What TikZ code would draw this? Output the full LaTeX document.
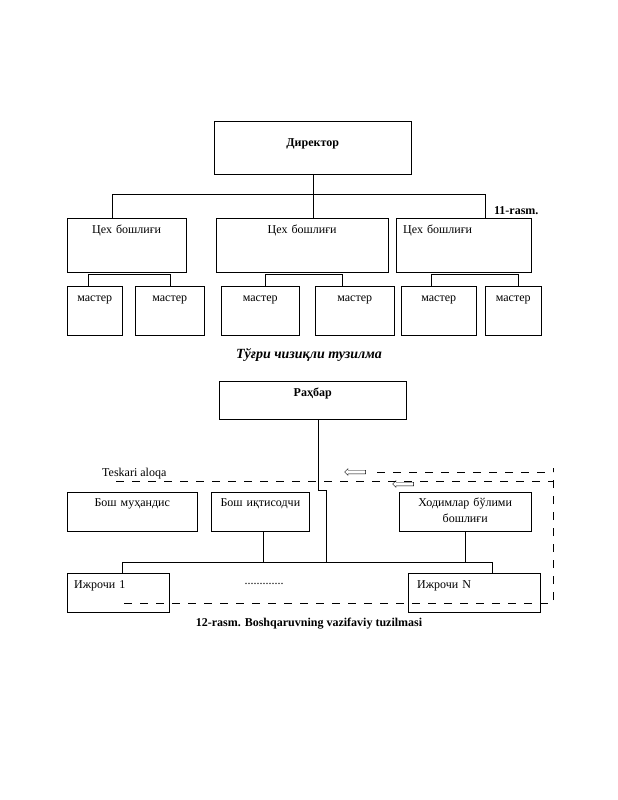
\documentclass[tikz,border=0pt]{standalone}
\usepackage{fontspec}
\setmainfont{Liberation Serif}
\usetikzlibrary{shapes.arrows}
\newcommand{\txt}{\fontsize{12}{14.5}\selectfont}
\tikzstyle{box} = [rectangle, draw, anchor=north west, inner xsep=0pt,
    inner ysep=0pt, align=center, font=\txt]
\tikzstyle{boxleft} = [box, align=left]
\tikzstyle{boxbold} = [box, font=\txt\bfseries]
\tikzstyle{caption} = [font=\txt\bfseries]
\tikzstyle{line} = [draw]
\tikzstyle{feedback} = [draw, dash pattern=on 8pt off 8pt]
\tikzstyle{backarrow} = [single arrow, draw, fill=white, shape border rotate=180,
    minimum height=21pt, inner xsep=0pt, inner ysep=1.6pt, single arrow head extend=1.6pt]

\begin{document}
\begin{tikzpicture}[x=1pt, y=-1pt]
    \useasboundingbox (0,0) rectangle (618,800);
    % Place nodes (11-rasm)
    \node [boxbold, text width=197pt, text height=25pt, text depth=28pt] (dir) at (214,121) {Директор};
    \node [box, text width=119pt, text height=15pt, text depth=39pt] (c1) at (67,218) {Цех бошлиғи};
    \node [box, text width=172pt, text height=15pt, text depth=39pt] (c2) at (216,218) {Цех бошлиғи};
    \node [boxleft, inner xsep=7pt, text width=121pt, text height=15pt, text depth=39pt] (c3) at (396,218) {Цех бошлиғи};
    \node [box, text width=55pt, text height=15pt, text depth=34pt] (m1) at (67,286) {мастер};
    \node [box, text width=69pt, text height=15pt, text depth=34pt] (m2) at (135,286) {мастер};
    \node [box, text width=78pt, text height=15pt, text depth=34pt] (m3) at (221,286) {мастер};
    \node [box, text width=79pt, text height=15pt, text depth=34pt] (m4) at (315,286) {мастер};
    \node [box, text width=75pt, text height=15pt, text depth=34pt] (m5) at (401,286) {мастер};
    \node [box, text width=56pt, text height=15pt, text depth=34pt] (m6) at (485,286) {мастер};
    \node [caption, anchor=east] (r11) at (542,211) {11-rasm.};
    \node [font=\fontsize{14}{16}\selectfont\bfseries\itshape] (t11) at (309,355) {Тўғри чизиқли тузилма};
    % Draw edges (11-rasm)
    \path [line] (dir.south) -- (dir.south |- c2.north);
    \path [line] ([xshift=-14.5pt]c1.north) -- ++(0,-24) -| ([xshift=21.5pt]c3.north);
    \path [line] ([xshift=-6.5pt]m1.north) |- ([yshift=-2pt]c1.south) -| (m2.north);
    \path [line] ([xshift=5pt]m3.north) |- ([yshift=-2pt]c2.south) -| ([xshift=-12.5pt]m4.north);
    \path [line] ([xshift=-7.5pt]m5.north) |- ([yshift=-2pt]c3.south) -| ([xshift=5pt]m6.north);
    % Place nodes (12-rasm)
    \node [boxbold, text width=187pt, text height=15pt, text depth=23pt] (rah) at (219,381) {Раҳбар};
    \node [box, text width=130pt, text height=14pt, text depth=25pt] (eng) at (67,492) {Бош муҳандис};
    \node [box, line width=0.8pt, text width=98pt, text height=14pt, text depth=25pt] (econ) at (211,492) {Бош иқтисодчи};
    \node [box, text width=132pt, text height=14pt, text depth=25pt] (staff) at (399,492) {Ходимлар бўлими\\[2pt]бошлиғи};
    \node [boxleft, inner xsep=7pt, text width=88pt, text height=15pt, text depth=24pt] (ex1) at (67,573) {Ижрочи 1};
    \node [boxleft, inner xsep=9pt, text width=114pt, text height=15pt, text depth=24pt] (exN) at (408,573) {Ижрочи N};
    \node [font=\txt] (dots) at (264,584) {.............};
    \node [font=\txt, anchor=base west, inner sep=0pt] (fb) at (102,476) {Teskari aloqa};
    \node [backarrow] (a1) at (356,472) {};
    \node [backarrow] (a2) at (404,484) {};
    \coordinate (fb1) at (377,472);
    \coordinate (fb2) at (116,481);
    \coordinate (fbtop) at (553,468);
    \coordinate (fbcorner) at (553,603);
    \coordinate (fbend) at (124,603);
    \node [caption] (r12) at (309,624) {12-rasm. Boshqaruvning vazifaviy tuzilmasi};
    % Draw edges (12-rasm)
    \path [line] ([xshift=5.5pt]rah.south) |- ++(8,71) -- ++(0,72);
    \path [line] ([xshift=4pt]ex1.north) -- ++(0,-11) -| ([xshift=18pt]exN.north);
    \path [line] ([xshift=3pt]econ.south) -- ++(0,31);
    \path [line] (staff.south) -- ++(0,31);
    \path [feedback] (fb1) -- (fbtop |- fb1);
    \path [feedback] (fb2) -- (fbtop |- fb2);
    \path [feedback] (fbend) -- (fbcorner) -- (fbtop);
\end{tikzpicture}
\end{document}
